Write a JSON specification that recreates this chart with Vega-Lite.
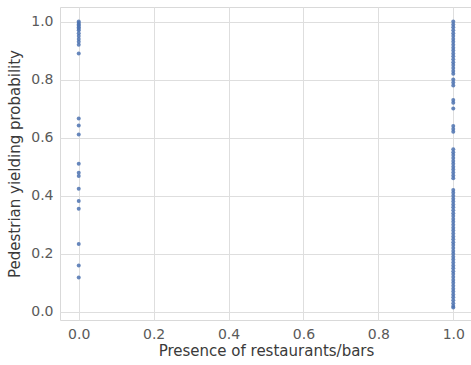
{
  "$schema": "https://vega.github.io/schema/vega-lite/v6.json",
  "width": 412,
  "height": 313,
  "autosize": {"type": "none"},
  "padding": {"left": 60, "top": 7, "right": 0, "bottom": 45},
  "background": "white",
  "config": {
    "view": {"stroke": "#d9d9d9", "strokeWidth": 1},
    "font": "DejaVu Sans",
    "axis": {
      "grid": true,
      "gridColor": "#dedede",
      "gridWidth": 1,
      "domain": false,
      "ticks": false,
      "labelFont": "DejaVu Sans",
      "labelFontSize": 14,
      "labelColor": "#5a5a5a",
      "titleFont": "DejaVu Sans",
      "titleFontSize": 15,
      "titleFontWeight": "normal",
      "titleColor": "#3a3a3a"
    }
  },
  "data": {
    "values": [
      {"x": 0, "y": 1.0}, {"x": 0, "y": 0.995}, {"x": 0, "y": 0.99}, {"x": 0, "y": 0.985}, {"x": 0, "y": 0.98},
      {"x": 0, "y": 0.975}, {"x": 0, "y": 0.97}, {"x": 0, "y": 0.96}, {"x": 0, "y": 0.95}, {"x": 0, "y": 0.94},
      {"x": 0, "y": 0.93}, {"x": 0, "y": 0.92}, {"x": 0, "y": 0.89},
      {"x": 0, "y": 0.666}, {"x": 0, "y": 0.642}, {"x": 0, "y": 0.611},
      {"x": 0, "y": 0.51}, {"x": 0, "y": 0.479}, {"x": 0, "y": 0.468},
      {"x": 0, "y": 0.424}, {"x": 0, "y": 0.382}, {"x": 0, "y": 0.355},
      {"x": 0, "y": 0.234}, {"x": 0, "y": 0.16}, {"x": 0, "y": 0.118},
      {"x": 1, "y": 1.0}, {"x": 1, "y": 0.99}, {"x": 1, "y": 0.98}, {"x": 1, "y": 0.97}, {"x": 1, "y": 0.96},
      {"x": 1, "y": 0.95}, {"x": 1, "y": 0.94}, {"x": 1, "y": 0.93}, {"x": 1, "y": 0.92}, {"x": 1, "y": 0.91},
      {"x": 1, "y": 0.9}, {"x": 1, "y": 0.89}, {"x": 1, "y": 0.88}, {"x": 1, "y": 0.87}, {"x": 1, "y": 0.86},
      {"x": 1, "y": 0.85}, {"x": 1, "y": 0.84}, {"x": 1, "y": 0.83}, {"x": 1, "y": 0.82},
      {"x": 1, "y": 0.80}, {"x": 1, "y": 0.79}, {"x": 1, "y": 0.78},
      {"x": 1, "y": 0.73}, {"x": 1, "y": 0.72}, {"x": 1, "y": 0.70},
      {"x": 1, "y": 0.64}, {"x": 1, "y": 0.63}, {"x": 1, "y": 0.62},
      {"x": 1, "y": 0.56}, {"x": 1, "y": 0.55}, {"x": 1, "y": 0.54}, {"x": 1, "y": 0.53}, {"x": 1, "y": 0.52},
      {"x": 1, "y": 0.51}, {"x": 1, "y": 0.50}, {"x": 1, "y": 0.49}, {"x": 1, "y": 0.48}, {"x": 1, "y": 0.47},
      {"x": 1, "y": 0.46},
      {"x": 1, "y": 0.42}, {"x": 1, "y": 0.41}, {"x": 1, "y": 0.40}, {"x": 1, "y": 0.39}, {"x": 1, "y": 0.38},
      {"x": 1, "y": 0.37}, {"x": 1, "y": 0.36}, {"x": 1, "y": 0.35}, {"x": 1, "y": 0.34}, {"x": 1, "y": 0.33},
      {"x": 1, "y": 0.32}, {"x": 1, "y": 0.31}, {"x": 1, "y": 0.30}, {"x": 1, "y": 0.29}, {"x": 1, "y": 0.28},
      {"x": 1, "y": 0.27}, {"x": 1, "y": 0.26}, {"x": 1, "y": 0.25}, {"x": 1, "y": 0.24}, {"x": 1, "y": 0.23},
      {"x": 1, "y": 0.22}, {"x": 1, "y": 0.21}, {"x": 1, "y": 0.20}, {"x": 1, "y": 0.19}, {"x": 1, "y": 0.18},
      {"x": 1, "y": 0.17}, {"x": 1, "y": 0.16}, {"x": 1, "y": 0.15}, {"x": 1, "y": 0.14}, {"x": 1, "y": 0.13},
      {"x": 1, "y": 0.12}, {"x": 1, "y": 0.11}, {"x": 1, "y": 0.10}, {"x": 1, "y": 0.09}, {"x": 1, "y": 0.08},
      {"x": 1, "y": 0.07}, {"x": 1, "y": 0.06}, {"x": 1, "y": 0.05}, {"x": 1, "y": 0.04}, {"x": 1, "y": 0.03},
      {"x": 1, "y": 0.02}, {"x": 1, "y": 0.015}
    ]
  },
  "mark": {"type": "point", "filled": true, "size": 16, "color": "#4c72b0", "opacity": 0.85, "clip": false},
  "encoding": {
    "x": {
      "field": "x",
      "type": "quantitative",
      "scale": {"domain": [-0.05, 1.05], "nice": false, "zero": false},
      "axis": {"values": [0, 0.2, 0.4, 0.6, 0.8, 1.0], "format": ".1f", "title": "Presence of restaurants/bars", "labelPadding": 7, "titlePadding": 2}
    },
    "y": {
      "field": "y",
      "type": "quantitative",
      "scale": {"domain": [-0.028, 1.05], "nice": false, "zero": false},
      "axis": {"values": [0, 0.2, 0.4, 0.6, 0.8, 1.0], "format": ".1f", "title": "Pedestrian yielding probability", "labelPadding": 7, "titlePadding": 8}
    }
  }
}
